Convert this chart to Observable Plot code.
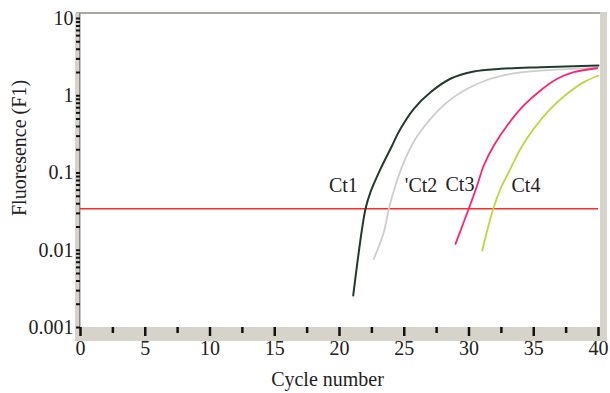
<!DOCTYPE html>
<html>
<head>
<meta charset="utf-8">
<script src="https://cdn.jsdelivr.net/npm/d3@7"></script>
<script src="https://cdn.jsdelivr.net/npm/@observablehq/plot@0.6"></script>
<style>
  html, body { margin: 0; padding: 0; background: #ffffff; }
  svg { display: block; }
</style>
</head>
<body>
<div id="chart"></div>
<script>
// ---- data ----
const ct1Cycle = [21.06, 22.01, 22.39, 23.17, 23.94, 24.71, 25.74, 27.03, 28.57, 30.37, 32.43, 35.52, 40];
const ct1Fluor = [0.0026, 0.0344, 0.0564, 0.113, 0.206, 0.373, 0.678, 1.11, 1.66, 2.06, 2.23, 2.34, 2.46];

const ct2Cycle = [22.65, 23.42, 23.81, 24.32, 24.97, 25.87, 27.03, 28.32, 29.86, 31.66, 33.72, 35.52, 38.07, 40];
const ct2Fluor = [0.00775, 0.0171, 0.0344, 0.0689, 0.138, 0.277, 0.503, 0.826, 1.23, 1.66, 1.98, 2.12, 2.23, 2.32];

const ct3Cycle = [28.96, 29.98, 30.63, 31.14, 31.92, 32.95, 34.23, 35.52, 36.81, 38.09, 39.9];
const ct3Fluor = [0.0121, 0.0344, 0.0689, 0.125, 0.227, 0.412, 0.748, 1.17, 1.66, 2.02, 2.27];

const ct4Cycle = [31.02, 31.87, 32.43, 33.2, 33.98, 35.0, 36.29, 37.58, 38.87, 40];
const ct4Fluor = [0.0099, 0.0344, 0.0624, 0.113, 0.206, 0.373, 0.678, 1.06, 1.5, 1.83];

const threshold = 0.0344;

const ctLabels = ["Ct1", "'Ct2", "Ct3", "Ct4"];
const ctLabelCycle = [20.3, 26.3, 29.3, 34.4];
const ctLabelFluor = [0.069, 0.069, 0.071, 0.069];

const xMajorTicks = [0, 5, 10, 15, 20, 25, 30, 35, 40];
const xMinorTicks = [2.5, 7.5, 12.5, 17.5, 22.5, 27.5, 32.5, 37.5];
const yMajorTicks = [0.001, 0.01, 0.1, 1, 10];
const yMinorTicks = [];
for (const p of [0.001, 0.01, 0.1, 1]) for (const k of [2,3,4,5,6,7,8,9]) yMinorTicks.push(+(k * p).toPrecision(3));

const xLabel = "Cycle number";
const yLabel = "Fluoresence (F1)";

// ---- decoration (frame bands) ----
function bands(index, scales, values, dims) {
  const {width, height, marginLeft, marginRight, marginTop, marginBottom} = dims;
  const g = d3.create("svg:g");
  const left = marginLeft, right = width - marginRight, top = marginTop, bottom = height - marginBottom;
  const band = "#d6d3cb";
  g.append("rect").attr("x", left - 4).attr("y", top - 6).attr("width", right - left + 12).attr("height", 2).attr("fill", "#a9a9a2");
  g.append("rect").attr("x", left - 5).attr("y", top - 5).attr("width", 5).attr("height", bottom - top + 19).attr("fill", band);
  g.append("rect").attr("x", left - 1).attr("y", top - 5).attr("width", 1.5).attr("height", bottom - top + 5).attr("fill", "#8a8a84");
  g.append("rect").attr("x", left - 5).attr("y", bottom).attr("width", right - left + 14).attr("height", 14).attr("fill", band);
  g.append("rect").attr("x", right + 2).attr("y", top - 6).attr("width", 7).attr("height", bottom - top + 20).attr("fill", band);
  return g.node();
}

const FS = 20;
const chart = Plot.plot({
  width: 610,
  height: 393,
  marginLeft: 80,
  marginRight: 12,
  marginTop: 18,
  marginBottom: 66,
  style: {fontFamily: "'Liberation Serif', 'Times New Roman', serif", fontSize: FS + "px", background: "#ffffff", color: "#222"},
  x: {domain: [0, 40], axis: null},
  y: {type: "log", domain: [0.001, 10], axis: null},
  marks: [
    bands,
    Plot.axisY({ticks: yMinorTicks, tickSize: 4, tickFormat: () => "", stroke: "#111", strokeWidth: 2}),
    Plot.axisY({ticks: yMajorTicks, tickSize: 4, tickPadding: 3, tickFormat: d => String(d), stroke: "#111", strokeWidth: 2, fill: "#222", fontSize: FS, label: null}),
    Plot.axisX({ticks: xMinorTicks, tickSize: 6, tickFormat: () => "", stroke: "#111", strokeWidth: 2.5, label: null}),
    Plot.axisX({ticks: xMajorTicks, tickSize: 9, tickPadding: 4, tickFormat: d => String(d), stroke: "#111", strokeWidth: 2.5, fill: "#222", fontSize: FS, label: null}),
    Plot.ruleY([threshold], {stroke: "#ff2a2a", strokeWidth: 1.6}),
    Plot.line(ct2Cycle, {x: ct2Cycle, y: ct2Fluor, stroke: "#cdcdcd", strokeWidth: 1.8, curve: "catmull-rom"}),
    Plot.line(ct1Cycle, {x: ct1Cycle, y: ct1Fluor, stroke: "#213b2c", strokeWidth: 2, curve: "catmull-rom"}),
    Plot.line(ct4Cycle, {x: ct4Cycle, y: ct4Fluor, stroke: "#bcd640", strokeWidth: 1.8, curve: "catmull-rom"}),
    Plot.line(ct3Cycle, {x: ct3Cycle, y: ct3Fluor, stroke: "#ff2272", strokeWidth: 1.8, curve: "catmull-rom"}),
    Plot.text(ctLabels, {x: ctLabelCycle, y: ctLabelFluor, text: ctLabels, fill: "#222", fontSize: FS, textAnchor: "middle", lineAnchor: "middle"}),
    Plot.text([xLabel], {frameAnchor: "bottom", text: d => d, dx: -12, dy: 52, fontSize: FS, fill: "#222", textAnchor: "middle", lineAnchor: "middle"}),
    Plot.text([yLabel], {frameAnchor: "left", text: d => d, rotate: -90, dx: -61, dy: -25, fontSize: FS, fill: "#222", textAnchor: "middle", lineAnchor: "middle"})
  ]
});
document.getElementById("chart").appendChild(chart);
</script>
</body>
</html>
